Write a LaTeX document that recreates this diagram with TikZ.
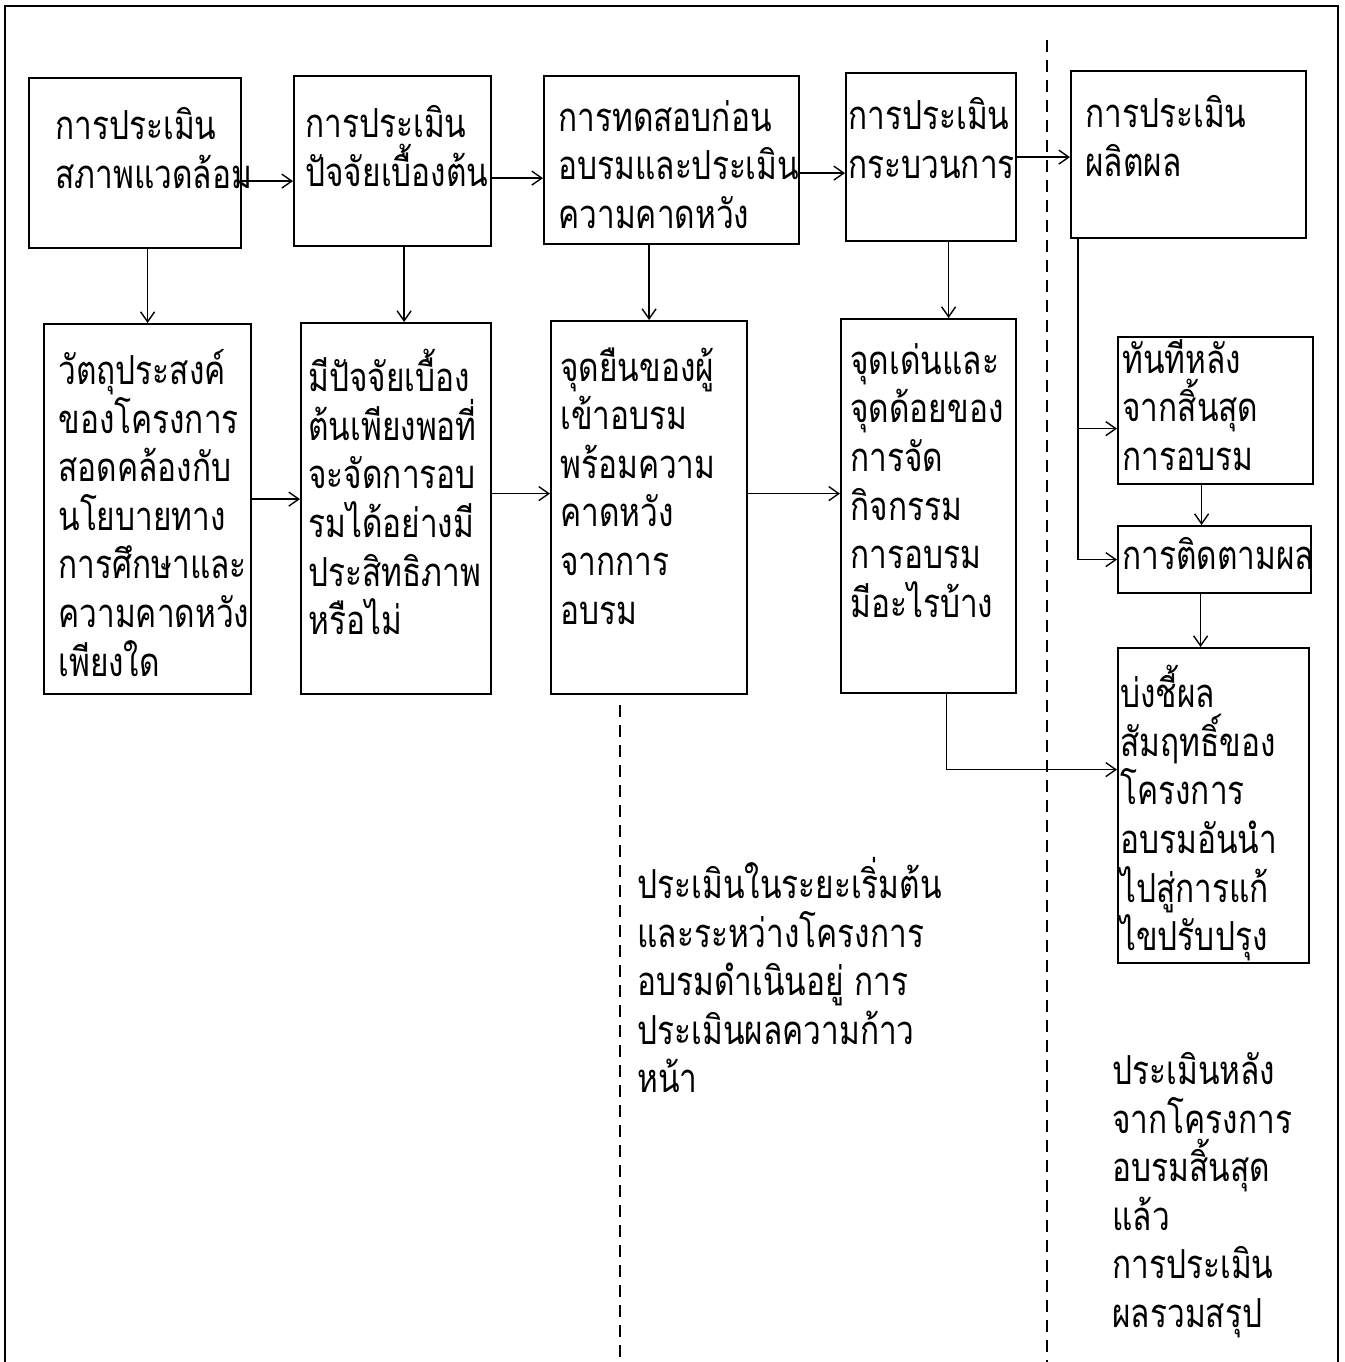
\documentclass[tikz,border=0pt]{standalone}
\usepackage{fontspec}
\newfontfamily\thaifont[Script=Thai,FakeStretch=0.79]{Loma}
\usetikzlibrary{arrows.meta,positioning}

\tikzset{
    box/.style={draw, line width=1.1pt, anchor=north west, inner sep=0pt},
    txt/.style={font=\thaifont\fontsize{20}{24.3}\selectfont, align=left,
        inner sep=0pt, anchor=north west, execute at begin node=\strut},
    arr/.style={-{Straight Barb[length=5pt,width=7pt]}, line width=0.7pt},
    sep/.style={line width=0.9pt, dash pattern=on 6pt off 4pt}
}

\begin{document}
\begin{tikzpicture}[x=0.5pt, y=-0.5pt]
        \useasboundingbox (0,0) rectangle (1345,1362);
        \draw[line width=1pt] (5,1362) |- (1338,6) -- (1338,1362);

        % top row
        \node[box, minimum width=106pt, minimum height=85pt] (env) at (28,77) {};
        \node[box, minimum width=98.5pt, minimum height=85pt] (inp) at (293,75) {};
        \node[box, minimum width=127.5pt, minimum height=84pt] (pre) at (543,75) {};
        \node[box, minimum width=85pt, minimum height=84pt] (proc) at (845,72) {};
        \node[box, minimum width=117.5pt, minimum height=83.5pt] (prod) at (1070,70) {};

        % second row
        \node[box, minimum width=103.5pt, minimum height=185pt] (obj) at (43,323) {};
        \node[box, minimum width=95pt, minimum height=185.5pt] (res) at (300,322) {};
        \node[box, minimum width=98pt, minimum height=186.5pt] (exp) at (550,320) {};
        \node[box, minimum width=87.5pt, minimum height=187pt] (pts) at (840,318) {};

        % after the course
        \node[box, minimum width=97.5pt, minimum height=73.5pt] (imm) at (1117,336) {};
        \node[box, minimum width=96.5pt, minimum height=33.5pt] (fol) at (1117,525) {};
        \node[box, minimum width=95.5pt, minimum height=157.5pt] (imp) at (1117,647) {};

        \node[txt] (envtx) at ([shift={(27,30)}]env.north west) {การประเมิน\\สภาพแวดล้อม};
        \node[txt] (inptx) at ([shift={(12,30)}]inp.north west) {การประเมิน\\ปัจจัยเบื้องต้น};
        \node[txt] (pretx) at ([shift={(15,25)}]pre.north west) {การทดสอบก่อน\\อบรมและประเมิน\\ความคาดหวัง};
        \node[txt] (proctx) at ([shift={(3,25)}]proc.north west) {การประเมิน\\กระบวนการ};
        \node[txt] (prodtx) at ([shift={(15,25)}]prod.north west) {การประเมิน\\ผลิตผล};

        \node[txt] (objtx) at ([shift={(15,26)}]obj.north west) {วัตถุประสงค์\\ของโครงการ\\สอดคล้องกับ\\นโยบายทาง\\การศึกษาและ\\ความคาดหวัง\\เพียงใด};
        \node[txt] (restx) at ([shift={(8,27)}]res.north west) {มีปัจจัยเบื้อง\\ต้นเพียงพอที่\\จะจัดการอบ\\รมได้อย่างมี\\ประสิทธิภาพ\\หรือไม่};
        \node[txt] (exptx) at ([shift={(10,27)}]exp.north west) {จุดยืนของผู้\\เข้าอบรม\\พร้อมความ\\คาดหวัง\\จากการ\\อบรม};
        \node[txt] (ptstx) at ([shift={(10,25)}]pts.north west) {จุดเด่นและ\\จุดด้อยของ\\การจัด\\กิจกรรม\\การอบรม\\มีอะไรบ้าง};

        \node[txt] (immtx) at ([shift={(5,3)}]imm.north west) {ทันทีหลัง\\จากสิ้นสุด\\การอบรม};
        \node[txt] (foltx) at ([shift={(5,10)}]fol.north west) {การติดตามผล};
        \node[txt] (imptx) at ([shift={(3,18)}]imp.north west) {บ่งชี้ผล\\สัมฤทธิ์ของ\\โครงการ\\อบรมอันนำ\\ไปสู่การแก้\\ไขปรับปรุง};

        \node[txt] (midtx) at (637,857) {ประเมินในระยะเริ่มต้น\\และระหว่างโครงการ\\อบรมดำเนินอยู่ การ\\ประเมินผลความก้าว\\หน้า};
        \node[txt] (posttx) at (1112,1052) {ประเมินหลัง\\จากโครงการ\\อบรมสิ้นสุด\\แล้ว\\การประเมิน\\ผลรวมสรุป};

        % stage lines
        \coordinate (s1a) at (620,705);
        \coordinate (s1b) at (620,1362);
        \coordinate (s2a) at (1047,40);
        \coordinate (s2b) at (1047,1362);
        \draw[sep] (s1a) -- (s1b);
        \draw[sep] (s2a) -- (s2b);

        \draw[arr] ([yshift=-9pt]env.east) -- ([yshift=-9pt]env.east -| inp.west);
        \draw[arr] ([yshift=-8.5pt]inp.east) -- ([yshift=-8.5pt]inp.east -| pre.west);
        \draw[arr] ([yshift=-6.5pt]pre.east) -- ([yshift=-6.5pt]pre.east -| proc.west);
        \draw[arr] (proc.east) -- (proc.east -| prod.west);

        \draw[arr] (obj.north |- env.south) -- (obj.north);
        \draw[arr] ([xshift=4pt]res.north |- inp.south) -- ([xshift=4pt]res.north);
        \draw[arr] (exp.north |- pre.south) -- (exp.north);
        \draw[arr] ([xshift=10pt]pts.north |- proc.south) -- ([xshift=10pt]pts.north);

        \draw[arr] ([yshift=5pt]obj.east) -- ([yshift=5pt]obj.east -| res.west);
        \draw[arr] ([yshift=7.5pt]res.east) -- ([yshift=7.5pt]res.east -| exp.west);
        \draw[arr] ([yshift=7pt]exp.east) -- ([yshift=7pt]exp.east -| pts.west);

        \draw[arr] ([xshift=4pt]prod.south west) |- ([yshift=-9pt]imm.west);
        \draw[arr] ([xshift=4pt]prod.south west) |- (fol.west);
        \draw[arr] ([xshift=-7pt]imm.south) -- ([xshift=-7pt]imm.south |- fol.north);
        \draw[arr] ([xshift=-7pt]fol.south) -- ([xshift=-7pt]fol.south |- imp.north);
        \draw[arr] ([xshift=9pt]pts.south) |- ([yshift=18pt]imp.west);
\end{tikzpicture}
\end{document}
